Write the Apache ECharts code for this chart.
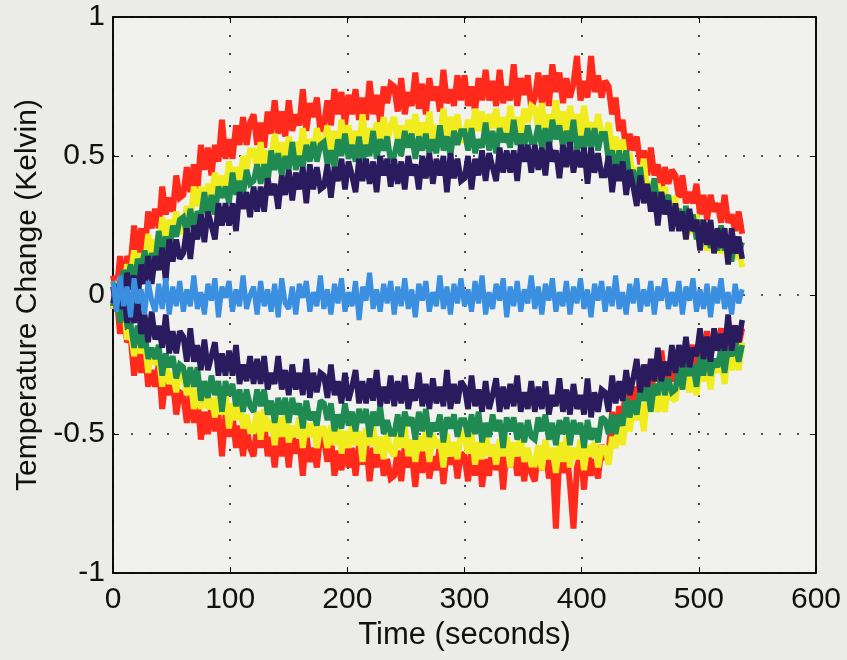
<!DOCTYPE html>
<html>
<head>
<meta charset="utf-8">
<script src="https://cdn.jsdelivr.net/npm/echarts@6/dist/echarts.min.js"></script>
<style>
html,body{margin:0;padding:0;background:#ebebe7;}
#chart{width:847px;height:660px;}
</style>
</head>
<body>
<div id="chart"></div>
<script>
// Sampling: one sample every 3 s starting at t = 0 (180 samples, 0..537 s)
const startTime = 0;
const timeStep = 3;

// Axis ticks
const xTicks = [0, 100, 200, 300, 400, 500, 600];
const yTicks = [-1, -0.5, 0, 0.5, 1];

// Temperature change, in hundredths of a Kelvin
const upperRed = [
 7,1,14,4,14,11,25,13,24,15,30,24,31,24,39,29,35,30,43,35,
 36,46,37,47,37,54,45,53,43,54,48,63,49,56,49,61,54,64,54,62,
 65,54,62,53,66,58,70,58,66,57,70,59,65,61,74,59,69,64,71,59,
 61,70,61,74,65,73,61,72,65,74,63,71,63,77,65,72,62,75,69,76,
 75,66,78,65,73,68,80,67,76,65,78,70,75,66,81,69,74,68,79,70,
 79,68,75,66,78,70,81,70,77,68,81,69,75,70,83,68,78,72,79,67,
 71,80,69,79,68,83,73,80,69,78,71,76,86,70,77,71,86,73,79,71,
 77,75,65,71,59,63,51,58,52,57,47,52,43,53,43,47,38,46,40,45,
 43,35,43,33,37,33,40,29,36,27,36,30,33,26,36,26,29,23,30,22
];
const upperYellow = [
 5,-2,6,-1,11,7,16,9,15,10,22,13,20,17,28,17,27,23,30,22,
 25,32,26,39,32,39,30,40,36,44,36,43,37,48,40,46,39,50,45,52,
 52,45,55,44,52,48,58,47,55,46,57,51,55,49,60,51,56,51,60,54,
 54,61,52,59,51,63,55,61,52,59,54,65,54,60,53,62,56,64,55,61,
 64,55,61,53,63,57,65,57,62,55,66,56,61,57,67,56,64,59,65,55,
 57,63,56,67,59,66,56,65,60,67,58,64,57,68,59,64,57,67,62,68,
 67,60,69,58,65,61,70,59,66,57,68,61,65,57,68,59,62,57,65,58,
 56,62,52,57,46,56,47,51,41,46,40,49,36,41,32,40,33,39,29,34,
 35,25,30,20,29,22,29,19,24,16,26,15,20,15,24,11,18,13,18,10
];
const upperGreen = [
 -4,3,-1,9,5,11,3,13,9,16,9,15,12,23,15,21,15,25,21,27,
 28,22,31,24,30,28,37,28,36,29,39,35,39,33,44,36,41,36,45,40,
 41,47,40,47,40,52,45,51,43,50,45,55,45,50,46,54,48,55,48,54,
 55,47,52,46,56,50,58,49,54,48,57,48,54,50,59,49,56,52,57,48,
 50,56,50,59,53,58,49,57,52,58,51,56,51,61,52,57,50,59,54,59,
 59,52,60,51,56,53,62,52,59,51,60,55,58,53,63,54,58,53,61,55,
 55,61,53,60,52,63,56,61,53,59,54,63,52,57,52,60,53,60,52,58,
 58,48,52,44,52,45,52,41,45,38,46,36,39,34,42,31,37,32,36,26,
 26,31,24,32,25,29,20,27,21,26,17,22,16,25,16,20,12,21,15,19
];
const upperNavy = [
 3,-5,4,-5,8,2,7,-2,11,4,14,4,14,9,17,5,20,12,20,13,
 15,24,13,25,20,29,19,30,25,20,33,25,33,25,33,23,37,31,37,28,
 39,30,39,30,42,36,40,31,43,36,45,34,44,38,46,33,47,38,46,38,
 39,47,35,46,41,49,38,48,43,37,49,41,49,40,48,37,50,43,49,39,
 49,40,48,38,50,43,47,38,50,42,51,40,49,43,50,37,51,42,49,41,
 42,50,38,49,43,52,41,51,46,41,53,44,52,44,52,41,54,48,54,44,
 54,45,53,43,55,48,52,42,54,46,55,44,52,46,53,40,53,44,51,43,
 43,50,37,47,41,48,36,45,39,32,43,33,40,30,37,25,37,29,34,23,
 33,23,30,20,31,23,27,16,27,18,27,15,24,17,24,11,24,15,21,13
];
const lowerNavy = [
 -3,4,-5,3,-10,-5,-10,-1,-14,-7,-17,-6,-16,-11,-19,-7,-21,-13,-21,-13,
 -15,-24,-12,-24,-18,-27,-16,-27,-22,-17,-29,-21,-29,-20,-29,-18,-32,-25,-31,-22,
 -32,-23,-32,-22,-34,-28,-32,-22,-34,-27,-36,-25,-34,-28,-36,-23,-37,-28,-35,-28,
 -29,-37,-25,-36,-31,-39,-28,-38,-33,-27,-39,-31,-39,-30,-38,-27,-40,-33,-39,-29,
 -40,-31,-39,-29,-41,-34,-38,-28,-40,-32,-41,-30,-39,-33,-40,-27,-41,-32,-39,-31,
 -33,-41,-29,-40,-34,-42,-31,-41,-36,-30,-42,-33,-41,-32,-40,-29,-42,-35,-41,-31,
 -42,-33,-41,-31,-43,-36,-40,-30,-42,-34,-43,-32,-41,-36,-43,-30,-44,-35,-42,-34,
 -35,-42,-29,-39,-31,-38,-27,-36,-30,-23,-35,-25,-33,-23,-31,-19,-31,-24,-29,-18,
 -28,-18,-26,-15,-26,-19,-22,-12,-23,-15,-24,-12,-20,-14,-20,-7,-20,-11,-17,-9
];
const lowerGreen = [
 -4,1,-10,-3,-11,-10,-19,-11,-19,-13,-23,-19,-23,-18,-29,-21,-26,-22,-30,-25,
 -26,-33,-26,-33,-26,-38,-31,-37,-29,-36,-31,-42,-31,-36,-32,-40,-34,-42,-34,-40,
 -42,-34,-40,-34,-43,-38,-46,-37,-43,-37,-46,-37,-43,-39,-48,-38,-45,-42,-47,-38,
 -39,-45,-39,-49,-43,-48,-39,-47,-42,-49,-41,-46,-41,-51,-42,-47,-40,-50,-45,-50,
 -50,-43,-51,-42,-47,-44,-52,-42,-49,-41,-51,-46,-49,-43,-53,-44,-48,-43,-51,-45,
 -45,-51,-43,-50,-42,-53,-46,-51,-43,-49,-45,-55,-44,-49,-44,-52,-46,-53,-45,-51,
 -52,-44,-49,-43,-52,-46,-54,-45,-50,-44,-54,-45,-50,-46,-55,-45,-52,-48,-53,-44,
 -45,-50,-43,-50,-43,-47,-37,-44,-38,-43,-34,-38,-32,-42,-32,-36,-28,-36,-30,-35,
 -34,-26,-34,-24,-29,-25,-33,-22,-29,-20,-29,-23,-26,-19,-28,-19,-22,-17,-24,-18
];
const lowerYellow = [
 -5,1,-8,-3,-16,-13,-22,-15,-21,-16,-28,-19,-25,-22,-33,-23,-32,-28,-35,-26,
 -29,-36,-30,-41,-34,-41,-32,-41,-37,-44,-36,-43,-36,-48,-39,-45,-37,-48,-43,-49,
 -49,-42,-52,-41,-49,-45,-54,-44,-51,-42,-53,-47,-51,-44,-55,-46,-51,-46,-55,-48,
 -48,-55,-47,-54,-45,-57,-49,-55,-47,-54,-49,-60,-48,-54,-47,-57,-51,-59,-50,-56,
 -58,-49,-55,-47,-58,-52,-60,-51,-56,-49,-60,-50,-55,-52,-62,-50,-58,-53,-59,-49,
 -51,-57,-50,-61,-53,-59,-49,-58,-54,-61,-52,-58,-51,-62,-53,-58,-50,-60,-55,-61,
 -61,-54,-63,-52,-59,-55,-64,-53,-60,-51,-62,-55,-59,-52,-63,-54,-58,-53,-62,-55,
 -55,-61,-51,-55,-44,-54,-44,-49,-39,-45,-39,-49,-36,-42,-34,-42,-35,-42,-32,-37,
 -38,-28,-34,-25,-35,-28,-36,-26,-31,-23,-34,-23,-28,-23,-32,-20,-27,-22,-27,-17
];
const lowerRed = [
 -5,0,-14,-5,-17,-15,-29,-17,-28,-19,-33,-27,-33,-25,-41,-30,-36,-31,-43,-35,
 -36,-46,-36,-46,-36,-52,-42,-50,-40,-49,-43,-58,-43,-51,-43,-55,-47,-58,-47,-55,
 -58,-47,-55,-46,-58,-51,-62,-50,-58,-49,-62,-50,-57,-52,-65,-50,-60,-55,-62,-50,
 -52,-60,-51,-65,-56,-63,-51,-62,-55,-65,-54,-61,-53,-67,-55,-62,-52,-65,-59,-66,
 -65,-56,-67,-54,-62,-57,-69,-55,-64,-53,-66,-58,-63,-54,-68,-56,-61,-55,-66,-57,
 -58,-67,-56,-65,-54,-69,-59,-65,-54,-63,-56,-70,-55,-62,-54,-65,-57,-67,-56,-64,
 -67,-56,-63,-54,-66,-58,-84,-57,-64,-55,-68,-84,-62,-57,-70,-55,-65,-59,-66,-54,
 -58,-57,-42,-52,-40,-45,-32,-41,-33,-41,-29,-35,-25,-38,-25,-31,-20,-31,-24,-31,
 -28,-20,-27,-18,-22,-18,-26,-15,-22,-13,-22,-16,-19,-12,-22,-13,-16,-11,-18,-12
];
const centerBlue = [
 5,-6,7,-4,3,-8,6,-3,2,-7,5,-2,-6,4,-5,6,-7,3,-4,5,
 -6,2,-4,7,-5,1,-7,4,-2,6,-8,3,-1,5,-6,2,-4,7,-5,0,
 3,-7,5,-4,2,-6,4,-8,6,-3,-5,3,-7,4,-1,5,-6,1,-4,7,
 -5,2,-7,4,-3,6,-6,1,-4,5,-9,3,-2,8,-5,2,-6,4,-3,5,
 -7,3,-4,6,-5,2,-8,4,-2,5,-6,1,-4,7,-5,3,-7,4,-3,6,
 -4,2,-6,5,-3,7,-7,1,-5,4,-2,6,-8,3,-4,5,-6,2,-3,7,
 -5,3,-7,4,-2,6,-6,1,-4,5,-7,3,-3,6,-5,2,-8,4,-2,5,
 -6,3,-4,7,-5,1,-7,4,-3,6,-6,2,-4,5,-7,3,-2,6,-5,1,
 -4,5,-7,3,-2,6,-6,2,-5,4,-8,3,-3,6,-5,1,-7,4,-3,2
];

const seriesDefs = [
  {name:'upper red', values: upperRed, color:'#ff2a1c', width:6},
  {name:'lower red', values: lowerRed, color:'#ff2a1c', width:6},
  {name:'upper yellow', values: upperYellow, color:'#f0ec1e', width:6},
  {name:'lower yellow', values: lowerYellow, color:'#f0ec1e', width:6},
  {name:'upper green', values: upperGreen, color:'#1f8a52', width:5.6},
  {name:'lower green', values: lowerGreen, color:'#1f8a52', width:5.6},
  {name:'upper navy', values: upperNavy, color:'#2a1a5e', width:5.6},
  {name:'lower navy', values: lowerNavy, color:'#2a1a5e', width:5.6},
  {name:'center blue', values: centerBlue, color:'#3a8fe0', width:5}
];

function toPoints(vals){
  return vals.map((v,i)=>[startTime + i*timeStep, v/100]);
}

const FONT = "'Liberation Sans', Arial, Helvetica, sans-serif";
const chart = echarts.init(document.getElementById('chart'), null, {renderer:'canvas'});

const gridLine = {show:true, lineStyle:{color:'#222', width:1.6, type:[2,16]}};

chart.setOption({
  backgroundColor:'#ebebe7',
  animation:false,
  grid:{left:113, right:31, top:17, bottom:87, show:true, backgroundColor:'#f1f1ed', borderColor:'#000', borderWidth:1.5},
  xAxis:[{
    type:'value', min:xTicks[0], max:xTicks[xTicks.length-1], interval:100,
    name:'Time (seconds)', nameLocation:'middle', nameGap:46,
    nameTextStyle:{fontFamily:FONT, fontSize:31, color:'#111'},
    axisLine:{show:true, onZero:false, lineStyle:{color:'#000', width:1.5}},
    axisTick:{show:true, inside:true, length:6, lineStyle:{color:'#000'}},
    axisLabel:{fontFamily:FONT, fontSize:30, color:'#111', margin:12},
    splitLine:gridLine
  },{
    type:'value', position:'top', min:xTicks[0], max:xTicks[xTicks.length-1], interval:100,
    axisLine:{show:true, onZero:false, lineStyle:{color:'#000', width:1.5}},
    axisTick:{show:true, inside:true, length:6, lineStyle:{color:'#000'}},
    axisLabel:{show:false}, splitLine:{show:false}
  }],
  yAxis:[{
    type:'value', min:yTicks[0], max:yTicks[yTicks.length-1], interval:0.5,
    name:'Temperature Change (Kelvin)', nameLocation:'middle', nameGap:68,
    nameTextStyle:{fontFamily:FONT, fontSize:30, color:'#111'},
    axisLine:{show:true, onZero:false, lineStyle:{color:'#000', width:1.5}},
    axisTick:{show:true, inside:true, length:6, lineStyle:{color:'#000'}},
    axisLabel:{fontFamily:FONT, fontSize:30, color:'#111', margin:8},
    splitLine:gridLine
  },{
    type:'value', position:'right', min:yTicks[0], max:yTicks[yTicks.length-1], interval:0.5,
    axisLine:{show:true, onZero:false, lineStyle:{color:'#000', width:1.5}},
    axisTick:{show:true, inside:true, length:6, lineStyle:{color:'#000'}},
    axisLabel:{show:false}, splitLine:{show:false}
  }],
  series: seriesDefs.map(d=>({
    name:d.name, type:'line', xAxisIndex:0, yAxisIndex:0,
    data: toPoints(d.values), showSymbol:false, symbol:'none',
    clip:true, silent:true,
    lineStyle:{color:d.color, width:d.width, join:'miter', miterLimit:2}
  }))
});
</script>
</body>
</html>
